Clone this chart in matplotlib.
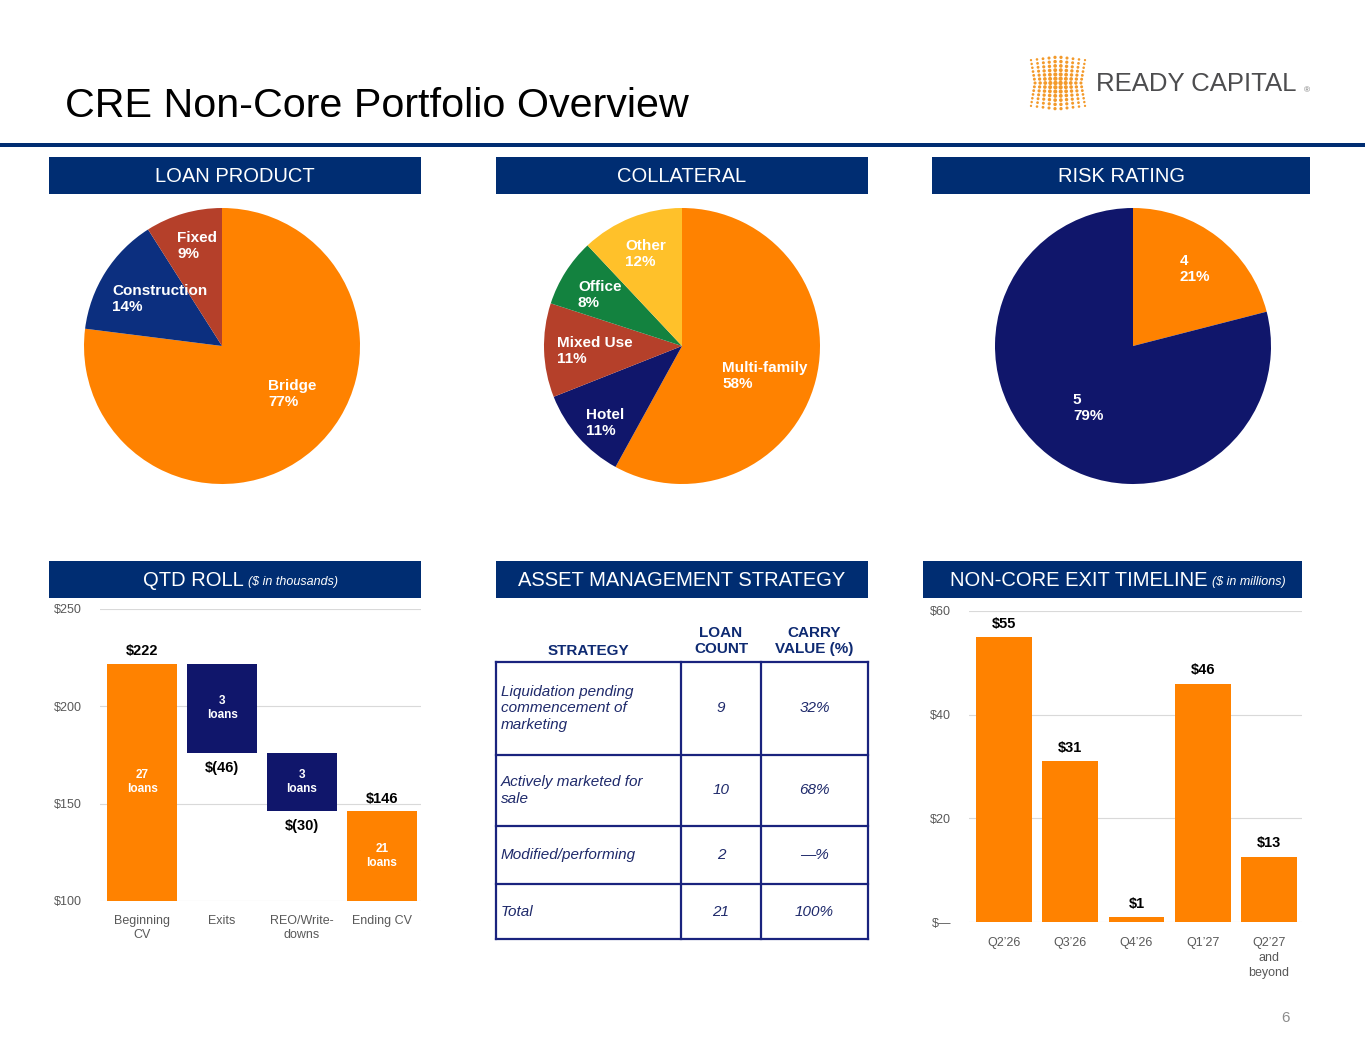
import numpy as np
import matplotlib
matplotlib.use("Agg")
import matplotlib.pyplot as plt
from matplotlib.patches import Rectangle

plt.rcParams['font.family'] = ['Liberation Sans', 'DejaVu Sans']

W, H = 1365, 1055

NAVY = '#002d72'
ORANGE = '#ff8200'
GRAY = '#595959'
GRID = '#d9d9d9'

# --- data ---
loan_labels = ['Bridge', 'Construction', 'Fixed']
loan_pct = [77, 14, 9]
loan_colors = [ORANGE, '#0c2f7f', '#b5402a']

coll_labels = ['Multi-family', 'Hotel', 'Mixed Use', 'Office', 'Other']
coll_pct = [58, 11, 11, 8, 12]
coll_colors = [ORANGE, '#10166b', '#b5402a', '#13823f', '#ffc12a']

risk_labels = ['4', '5']
risk_pct = [21, 79]
risk_colors = [ORANGE, '#10166b']

wf_cats = ['Beginning\nCV', 'Exits', 'REO/Write-\ndowns', 'Ending CV']
wf_begin = 222
wf_changes = [-46, -30]
wf_end = 146
wf_loans = [27, 3, 3, 21]

exit_cats = ['Q2’26', 'Q3’26', 'Q4’26', 'Q1’27', 'Q2’27\nand\nbeyond']
exit_vals = [55, 31, 1, 46, 12.6]

tbl_head = ['STRATEGY', 'LOAN\nCOUNT', 'CARRY\nVALUE (%)']
tbl_strategy = ['Liquidation pending\ncommencement of\nmarketing',
                'Actively marketed for\nsale',
                'Modified/performing',
                'Total']
tbl_count = [9, 10, 2, 21]
tbl_carry = ['32%', '68%', '—%', '100%']


def px_axes(x0, y0, x1, y1):
    return fig.add_axes([x0 / W, 1 - y1 / H, (x1 - x0) / W, (y1 - y0) / H])


fig = plt.figure(figsize=(W / 100, H / 100), dpi=100)

# background layer in pixel coords
bg = fig.add_axes([0, 0, 1, 1])
bg.set_xlim(0, W)
bg.set_ylim(H, 0)
bg.axis('off')

bg.text(65, 117, 'CRE Non-Core Portfolio Overview', fontsize=29.7, color='black',
        ha='left', va='baseline')
bg.add_patch(Rectangle((0, 143), W, 4, color=NAVY, lw=0))

# logo
gx, gy = [], []
sizes = []
for i in range(10):
    u = (i - 4.5) / 4.5
    for j in range(13):
        v = (j - 6) / 6
        xs = 1058 + u * 27 * (0.85 + 0.15 * abs(v))
        ys = 83 + v * 26 * (1 - 0.12 * abs(u))
        gx.append(xs)
        gy.append(ys)
        sizes.append(9 * (1.1 - 0.6 * abs(u)) * (1.1 - 0.5 * abs(v)))
bg.scatter(gx, gy, s=sizes, color='#f39a2b', lw=0)
bg.text(1096, 84, 'READY CAPITAL', fontsize=18.5, color='#4d4d4f',
        ha='left', va='center')
bg.text(1304, 91, '®', fontsize=6, color='#777777', ha='left', va='center')

# section headers
headers = [(49, 421, 157, 194, 'LOAN PRODUCT', None),
           (496, 868, 157, 194, 'COLLATERAL', None),
           (932, 1310, 157, 194, 'RISK RATING', None),
           (49, 421, 561, 598, 'QTD ROLL', '($ in thousands)'),
           (496, 868, 561, 598, 'ASSET MANAGEMENT STRATEGY', None),
           (923, 1302, 561, 598, 'NON-CORE EXIT TIMELINE', '($ in millions)')]
for x0, x1, y0, y1, txt, sub in headers:
    bg.add_patch(Rectangle((x0, y0), x1 - x0, y1 - y0, color=NAVY, lw=0))
    cy = (y0 + y1) / 2 + 1
    if sub is None:
        bg.text((x0 + x1) / 2, cy, txt, fontsize=14.5, color='white',
                ha='center', va='center')
    else:
        split = 244 if txt == 'QTD ROLL' else 1208
        bg.text(split, cy, txt, fontsize=14.5, color='white', ha='right', va='center')
        bg.text(split + 4, cy + 2, sub, fontsize=9, color='white', style='italic',
                ha='left', va='center')

bg.text(1285, 1018, '6', fontsize=11, color='#8c8c8c', ha='center', va='center')


# --- pies ---
def draw_pie(cx, cy, r, vals, colors, labels, label_pos):
    ax = px_axes(cx - r, cy - r, cx + r, cy + r)
    ax.pie(vals, colors=colors, startangle=90, counterclock=False, radius=1,
           wedgeprops=dict(linewidth=0))
    ax.set_xlim(-1, 1)
    ax.set_ylim(-1, 1)
    ax.set_aspect('equal')
    ax.axis('off')
    for lab, v, (lx, ly) in zip(labels, vals, label_pos):
        ax.text(lx, ly, f'{lab}\n{v}%', color='white', fontsize=11, fontweight='bold',
                ha='left', va='center', linespacing=1.25, clip_on=False)


draw_pie(222, 346, 138, loan_pct, loan_colors, loan_labels,
         [(0.333, -0.348), (-0.797, 0.34), (-0.326, 0.725)])
draw_pie(682, 346, 138, coll_pct, coll_colors, coll_labels,
         [(0.29, -0.217), (-0.696, -0.558), (-0.906, -0.036), (-0.754, 0.37), (-0.413, 0.667)])
draw_pie(1133, 346, 138, risk_pct, risk_colors, risk_labels,
         [(0.34, 0.558), (-0.435, -0.449)])

# --- QTD roll waterfall ---
ax = px_axes(100, 609, 421, 901)
xs = np.arange(len(wf_cats))
tops = [wf_begin]
bottoms = [0]
level = wf_begin
for ch in wf_changes:
    tops.append(level)
    bottoms.append(level + ch)
    level += ch
tops.append(wf_end)
bottoms.append(0)
heights = [t - b for t, b in zip(tops, bottoms)]
cols = [ORANGE, '#10166b', '#10166b', ORANGE]
ax.bar(xs, heights, bottom=bottoms, width=0.875, color=cols, zorder=2)
ax.set_ylim(100, 250)
ax.set_xlim(-0.53, 3.49)
ax.set_yticks([100, 150, 200, 250])
ax.set_yticklabels([f'${v}' for v in [100, 150, 200, 250]])
ax.set_xticks(xs)
ax.set_xticklabels(wf_cats)
ax.grid(axis='y', color=GRID, lw=0.8, zorder=0)
for s in ax.spines.values():
    s.set_visible(False)
ax.tick_params(length=0, labelsize=9, labelcolor=GRAY, pad=10)
ax.tick_params(axis='y', pad=13)
for i in range(len(xs)):
    mid = (max(bottoms[i], 100) + tops[i]) / 2
    ax.text(xs[i], mid, f'{wf_loans[i]}\nloans', color='white', fontsize=8.5,
            fontweight='bold', ha='center', va='center', zorder=3)
ax.text(xs[0], tops[0] + 3, f'${wf_begin}', fontsize=10.5, fontweight='bold',
        ha='center', va='bottom')
ax.text(xs[3], tops[3] + 3, f'${wf_end}', fontsize=10.5, fontweight='bold',
        ha='center', va='bottom')
for i, ch in enumerate(wf_changes):
    ax.text(xs[i + 1], bottoms[i + 1] - 4, f'$({-ch})', fontsize=10.5, fontweight='bold',
            ha='center', va='top')

# --- exit timeline ---
ax = px_axes(969, 611, 1302, 922)
xs = np.arange(len(exit_cats))
ax.bar(xs, exit_vals, width=0.845, color=ORANGE, zorder=2)
ax.set_ylim(0, 60)
ax.set_xlim(-0.53, 4.5)
ax.set_yticks([0, 20, 40, 60])
ax.set_yticklabels(['$—', '$20', '$40', '$60'])
ax.set_xticks(xs)
ax.set_xticklabels(exit_cats, linespacing=1.3)
ax.grid(axis='y', color=GRID, lw=0.8, zorder=0)
for s in ax.spines.values():
    s.set_visible(False)
ax.tick_params(length=0, labelsize=9, labelcolor=GRAY, pad=11)
ax.tick_params(axis='y', pad=13)
for x, v in zip(xs, exit_vals):
    ax.text(x, v + 1.2, f'${round(v)}', fontsize=10.5, fontweight='bold',
            ha='center', va='bottom')

# --- asset management table ---
ax = px_axes(490, 605, 875, 945)
ax.set_xlim(490, 875)
ax.set_ylim(945, 605)
ax.axis('off')
col_edges = [496, 681, 761, 868]
row_heights = [93, 71, 58, 55]
row_edges = [662]
for h in row_heights:
    row_edges.append(row_edges[-1] + h)
TBL = '#1a237e'
TXT = '#1f2a6b'
for y in row_edges:
    ax.plot([col_edges[0], col_edges[-1]], [y, y], color=TBL, lw=1.6)
for x in col_edges:
    ax.plot([x, x], [row_edges[0], row_edges[-1]], color=TBL, lw=1.6)
hdr_y = [651, 641, 641]
for i, h in enumerate(tbl_head):
    ax.text((col_edges[i] + col_edges[i + 1]) / 2, hdr_y[i], h, fontsize=11,
            fontweight='bold', color='#0e2a72', ha='center', va='center', linespacing=1.2)
for r in range(len(tbl_strategy)):
    cy = (row_edges[r] + row_edges[r + 1]) / 2
    ax.text(col_edges[0] + 5, cy, tbl_strategy[r], fontsize=11, style='italic',
            color=TXT, ha='left', va='center', linespacing=1.2)
    ax.text((col_edges[1] + col_edges[2]) / 2, cy, str(tbl_count[r]), fontsize=11,
            style='italic', color=TXT, ha='center', va='center')
    ax.text((col_edges[2] + col_edges[3]) / 2, cy, tbl_carry[r], fontsize=11,
            style='italic', color=TXT, ha='center', va='center')

fig.savefig('out.png', dpi=100)
